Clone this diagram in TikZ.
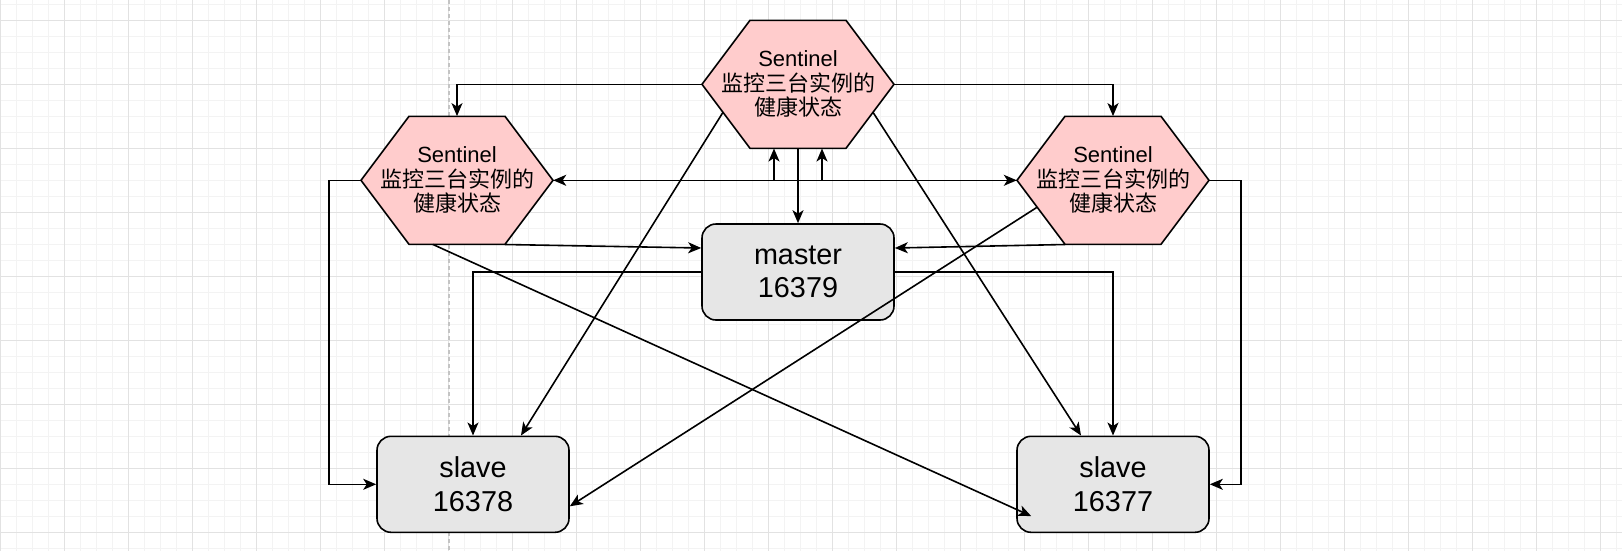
\documentclass[tikz,border=0pt]{standalone}
\usepackage{fontspec}
\setmainfont{Liberation Sans}
\newfontfamily\cjk{Noto Sans CJK SC}
\definecolor{sentpink}{HTML}{FFCCCC}
\definecolor{boxgray}{HTML}{E6E6E6}
\definecolor{minorline}{HTML}{F3F3F3}
\definecolor{majorline}{HTML}{E2E2E2}
\definecolor{breakgray}{HTML}{C4C4C4}
\usetikzlibrary{arrows.meta, calc, positioning}
\tikzset{
	sentinel/.style={minimum width=192pt, minimum height=128pt, inner sep=0pt,
		align=center, font=\fontsize{22}{24.5}\selectfont}
}
\tikzset{
	hexfill/.style={fill=sentpink, draw=black, line width=1.6pt, line join=miter}
}
\tikzset{
	redisbox/.style={draw=black, fill=boxgray, rounded corners=14pt, line width=1.6pt,
		minimum width=192pt, minimum height=96pt, inner sep=0pt, align=center,
		font=\fontsize{28.8}{33.5}\selectfont}
}
\tikzset{
	conn/.style={line width=1.6pt, ->}
}
\newcommand{\watch}{Sentinel\\{\cjk 监控三台实例的}\\{\cjk 健康状态}}

\begin{document}
\begin{tikzpicture}[x=1pt, y=-1pt, >={Stealth[length=13pt,width=11pt,inset=3.5pt]}]
      \useasboundingbox (0,0) rectangle (1622,550);
      \fill[white] (0,0) rectangle (1622,550);
      % canvas grid
      \begin{scope}
        \clip (0,0) rectangle (1622,550);
        \draw[minorline, line width=0.8pt, xshift=0.3pt, yshift=-4.3pt] (-32,600) grid[step=16pt] (1660,-32);
        \draw[majorline, line width=0.8pt, xshift=0.3pt, yshift=-20.3pt] (-64,640) grid[step=64pt] (1700,-64);
      \end{scope}
      \draw[breakgray, line width=1.5pt, dash pattern=on 4pt off 3pt] (449,0) -- (449,550);
      % the three sentinels
      \foreach \n/\x/\y in {T/798/84.3, L/457/180.3, R/1113/180.3} {
        \draw[hexfill] (\x-96,\y) -- (\x-48,\y-64) -- (\x+48,\y-64) -- (\x+96,\y)
          -- (\x+48,\y+64) -- (\x-48,\y+64) -- cycle;
        \node[sentinel] (\n) at (\x,\y) {\watch};
      }
      % redis instances
      \node[redisbox] (M) at (798,272) {master\\16379};
      \node[redisbox] (S1) at (473,484.3) {slave\\16378};
      \node[redisbox] (S2) at (1113,484.3) {slave\\16377};
      % sentinel to sentinel
      \draw[conn] (T.west) -| (L.north);
      \draw[conn] (T.east) -| (R.north);
      \draw[conn, <->] (L.east) -- (R.west);
      \draw[conn] (L.east) -| ([xshift=-24pt]T.south);
      \draw[conn] (R.west) -| ([xshift=24pt]T.south);
      % sentinel to master
      \draw[conn] (T.south) -- (M.north);
      \draw[conn] ([xshift=48pt]L.south) -- ([yshift=24pt]M.west);
      \draw[conn] ([xshift=-48pt]R.south) -- ([yshift=24pt]M.east);
      % sentinel to slaves
      \draw[conn] (L.west) -- ++(-32,0) |- (S1.west);
      \draw[conn] (R.east) -- ++(32,0) |- (S2.east);
      \draw[conn] ($(T.center)+(-75,28)$) -- ([xshift=48pt]S1.north);
      \draw[conn] ($(T.center)+(75,28)$) -- ([xshift=-32pt]S2.north);
      \draw[conn] ([xshift=-24pt]L.south) -- ($(S2.south west)+(15,-17)$);
      \draw[conn] ($(R.center)+(-76,27)$) -- ($(S1.east)+(0,22)$);
      % master to slaves
      \draw[conn] (M.west) -| (S1.north);
      \draw[conn] (M.east) -| (S2.north);
    \end{tikzpicture}
\end{document}
